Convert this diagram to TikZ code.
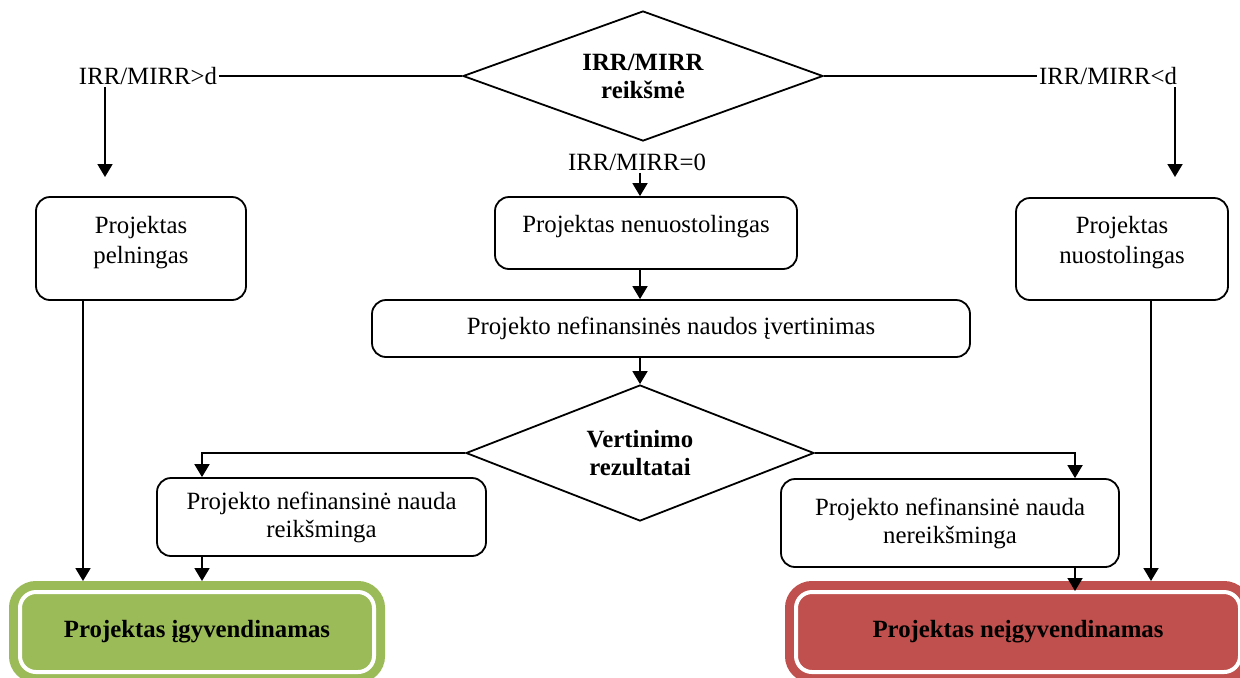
\documentclass[tikz,border=0pt]{standalone}
\usepackage{fontspec}
\setmainfont{Liberation Serif}
\usetikzlibrary{shapes.geometric,arrows.meta,calc}
\definecolor{okgreen}{HTML}{9BBB59}
\definecolor{okred}{HTML}{C0504D}
\begin{document}
\begin{tikzpicture}[x=0.5pt,y=-0.5pt,
  every node/.style={font=\fontsize{12.4}{15}\selectfont},
  ln/.style={line width=0.9pt},
  arr/.style={ln,-{Triangle[length=6.5pt,width=7.5pt]}},
  box/.style={draw,line width=0.9pt,rounded corners=7pt,align=center,inner sep=2pt},
  up/.style={text depth=9pt},
  dec/.style={draw,diamond,line width=0.9pt,align=center,inner sep=0pt,font=\fontsize{12.4}{14}\selectfont\bfseries},
  lbl/.style={inner sep=1pt},
  fin/.style={fill=#1,draw=white,line width=2pt,rounded corners=8pt,
    preaction={draw=#1,line width=11pt},
    font=\fontsize{12.4}{15}\selectfont\bfseries,minimum height=40pt,outer sep=5.5pt}
]
\fill[white] (0,0) rectangle (1240,677);
\useasboundingbox (0,0) rectangle (1240,677);

% decisions
\node[dec,aspect=2.77,minimum width=180pt,minimum height=65pt] (d1) at (643,76) {IRR/MIRR\\reikšmė};
\node[dec,aspect=2.56,minimum width=174pt,minimum height=68pt] (d2) at (640,453) {Vertinimo\\rezultatai};

% labels
\node[lbl] (lL) at (148,76) {IRR/MIRR>d};
\node[lbl] (lR) at (1108,76) {IRR/MIRR<d};
\node[lbl] (lM) at (637,162) {IRR/MIRR=0};

% boxes
\node[box,up,minimum width=105pt,minimum height=51.5pt] (p1) at (141,248.5) {Projektas\\pelningas};
\node[box,up,minimum width=106pt,minimum height=51pt] (p3) at (1122,249) {Projektas\\nuostolingas};
\node[box,up,minimum width=151pt,minimum height=36pt] (n1) at (646,233) {Projektas nenuostolingas};
\node[box,minimum width=299pt,minimum height=28.5pt] (n2) at (671,328.5) {Projekto nefinansinės naudos įvertinimas};
\node[box,font=\fontsize{12.4}{14}\selectfont,minimum width=164.5pt,minimum height=39pt] (r1) at (321.5,517) {Projekto nefinansinė nauda\\reikšminga};
\node[box,font=\fontsize{12.4}{14}\selectfont,minimum width=169pt,minimum height=44pt] (r2) at (950,523) {Projekto nefinansinė nauda\\nereikšminga};

% final results
\node[fin=okgreen,minimum width=177pt] (go) at (197,632) {Projektas įgyvendinamas};
\node[fin=okred,minimum width=222pt] (ng) at (1018,632) {Projektas neįgyvendinamas};

% helper coordinates
\coordinate (aL) at (105,177);
\coordinate (aR) at (1175,177);
\coordinate (xM) at (640,0);
\coordinate (xA) at (83,0);
\coordinate (xB) at (202,0);
\coordinate (xC) at (1075,0);
\coordinate (xD) at (1151,0);

% connectors
\draw[ln] (d1.west) -- (lL.east);
\draw[ln] (d1.east) -- (lR.west);
\draw[arr] (lL.south -| aL) -- (aL);
\draw[arr] (lR.south -| aR) -- (aR);
\draw[arr] (lM.south -| xM) -- (n1.north -| xM);
\draw[arr] (n1.south -| xM) -- (n2.north -| xM);
\draw[arr] (n2.south -| xM) -- (d2.north);
\draw[arr] (d2.west) -| (r1.north -| xB);
\draw[arr] (d2.east) -| (r2.north -| xC);
\draw[arr] (p1.south -| xA) -- (go.north -| xA);
\draw[arr] (r1.south -| xB) -- (go.north -| xB);
\draw[arr,shorten >=-5pt] (r2.south -| xC) -- (ng.north -| xC);
\draw[arr] (p3.south -| xD) -- (ng.north -| xD);
\end{tikzpicture}
\end{document}
